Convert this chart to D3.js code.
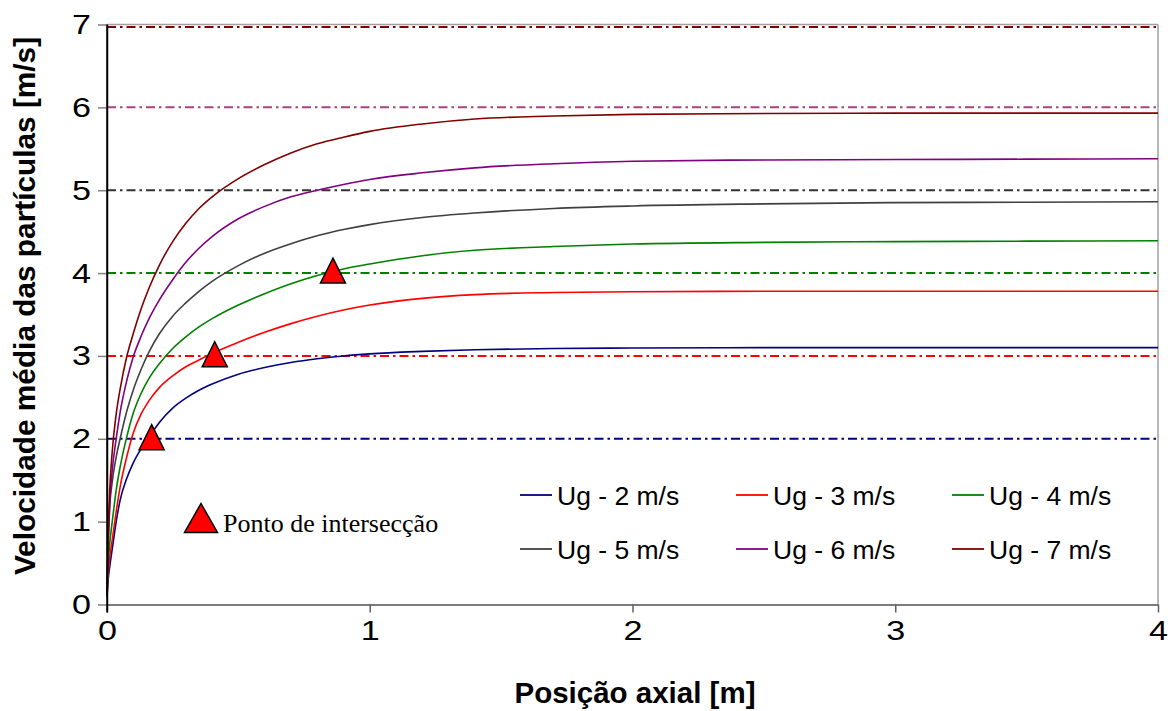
<!DOCTYPE html>
<html>
<head>
<meta charset="utf-8">
<script src="https://cdn.jsdelivr.net/npm/d3@7"></script>
<style>
  html, body { margin: 0; padding: 0; background: #ffffff; }
  svg { display: block; }
</style>
</head>
<body>
<svg id="chart" width="1168" height="711"></svg>
<script>
// ---------------- DATA ----------------
const xPos = [0, 0.005, 0.01, 0.02, 0.035, 0.05, 0.075, 0.1, 0.13, 0.16, 0.2, 0.25, 0.3, 0.35, 0.4,
              0.5, 0.6, 0.7, 0.8, 0.9, 1.0, 1.2, 1.4, 1.7, 2.0, 2.5, 3, 3.5, 4];
const seriesNames = ["Ug - 2 m/s", "Ug - 3 m/s", "Ug - 4 m/s", "Ug - 5 m/s", "Ug - 6 m/s", "Ug - 7 m/s"];
const ug2 = [0.1, 0.32, 0.45, 0.67, 1.00, 1.26, 1.52, 1.71, 1.88, 2.02, 2.20, 2.37, 2.49, 2.585, 2.66,
             2.78, 2.86, 2.92, 2.965, 3.00, 3.025, 3.055, 3.075, 3.09, 3.095, 3.10, 3.10, 3.10, 3.10];
const ug3 = [0.1, 0.38, 0.55, 0.78, 1.12, 1.42, 1.78, 2.07, 2.30, 2.46, 2.62, 2.76, 2.87, 2.95, 3.03,
             3.165, 3.285, 3.39, 3.48, 3.555, 3.615, 3.695, 3.74, 3.765, 3.775, 3.78, 3.78, 3.78, 3.78];
const ug4 = [0.1, 0.50, 0.72, 1.00, 1.38, 1.66, 2.02, 2.31, 2.55, 2.73, 2.91, 3.09, 3.23, 3.35, 3.45,
             3.615, 3.75, 3.87, 3.97, 4.05, 4.11, 4.21, 4.275, 4.32, 4.35, 4.37, 4.38, 4.385, 4.39];
const ug5 = [0.1, 0.75, 1.15, 1.48, 1.78, 2.00, 2.33, 2.59, 2.84, 3.05, 3.27, 3.48, 3.64, 3.78, 3.90,
             4.09, 4.24, 4.355, 4.45, 4.525, 4.585, 4.67, 4.725, 4.78, 4.81, 4.835, 4.85, 4.855, 4.86];
const ug6 = [0.1, 0.80, 1.20, 1.62, 2.00, 2.32, 2.70, 2.99, 3.24, 3.45, 3.68, 3.92, 4.13, 4.30, 4.44,
             4.655, 4.805, 4.92, 5.00, 5.07, 5.13, 5.21, 5.27, 5.32, 5.35, 5.365, 5.37, 5.375, 5.38];
const ug7 = [0.1, 0.90, 1.35, 1.85, 2.30, 2.60, 2.99, 3.27, 3.57, 3.82, 4.10, 4.38, 4.60, 4.78, 4.92,
             5.14, 5.31, 5.45, 5.56, 5.64, 5.71, 5.80, 5.86, 5.895, 5.915, 5.925, 5.93, 5.93, 5.93];
const seriesValues = [ug2, ug3, ug4, ug5, ug6, ug7];
const seriesColors = ["#000080", "#ff0000", "#008000", "#404040", "#800080", "#800000"];

// horizontal dash-dot reference lines (gas velocity levels)
const refValues = [2, 3, 4, 5, 6, 6.97];
const refColors = ["#000080", "#ff0000", "#008000", "#333333", "#a8437f", "#800000"];

// intersection points
const interX = [0.17, 0.41, 0.86];
const interY = [2.02, 3.02, 4.03];

const xTicks = [0, 1, 2, 3, 4];
const yTicks = [0, 1, 2, 3, 4, 5, 6, 7];
const xTitle = "Posição axial [m]";
const yTitle = "Velocidade média das partículas [m/s]";
const markerLabel = "Ponto de intersecção";

// ---------------- LAYOUT ----------------
const svg = d3.select("#chart");
const plot = { left: 107, right: 1158, top: 24.5, bottom: 604.5 };

const x = d3.scaleLinear().domain([0, 4]).range([plot.left, plot.right]);
const y = d3.scaleLinear().domain([0, 7]).range([plot.bottom, plot.top]);

svg.append("rect").attr("width", 1168).attr("height", 711).attr("fill", "#ffffff");

// plot border (top & right, light gray)
svg.append("line").attr("x1", plot.left).attr("x2", plot.right)
  .attr("y1", plot.top).attr("y2", plot.top)
  .attr("stroke", "#a0a0a0").attr("stroke-width", 1.5);
svg.append("line").attr("x1", plot.right).attr("x2", plot.right)
  .attr("y1", plot.top).attr("y2", plot.bottom)
  .attr("stroke", "#a0a0a0").attr("stroke-width", 1.5);

// reference dash-dot lines
svg.append("g").selectAll("line").data(refValues).join("line")
  .attr("x1", x(0)).attr("x2", x(4))
  .attr("y1", d => y(d)).attr("y2", d => y(d))
  .attr("stroke", (d, i) => refColors[i])
  .attr("stroke-width", 2)
  .attr("stroke-dasharray", "9,4,2.5,4");

// curves
const line = d3.line()
  .x((d, i) => x(xPos[i]))
  .y(d => y(d))
  .curve(d3.curveMonotoneX);

svg.append("g").selectAll("path").data(seriesValues).join("path")
  .attr("d", d => line(d))
  .attr("fill", "none")
  .attr("stroke", (d, i) => seriesColors[i])
  .attr("stroke-width", 1.6);

// triangle marker path generator
function tri(cx, cy, w, h) {
  const p = d3.path();
  p.moveTo(cx, cy - h / 2);
  p.lineTo(cx + w / 2, cy + h / 2);
  p.lineTo(cx - w / 2, cy + h / 2);
  p.closePath();
  return p.toString();
}

svg.append("g").selectAll("path").data(interX).join("path")
  .attr("d", (d, i) => tri(x(d), y(interY[i]), 25, 25))
  .attr("fill", "#ff0000")
  .attr("stroke", "#000000")
  .attr("stroke-width", 1.5)
  .attr("stroke-linejoin", "miter");

// axes
const yAxis = d3.axisLeft(y).tickValues(yTicks).tickSize(9).tickSizeOuter(0).tickPadding(7)
  .tickFormat(d3.format("d"));
const gy = svg.append("g").attr("transform", `translate(${plot.left},0)`).call(yAxis);
gy.select(".domain").attr("stroke", "#000000").attr("stroke-width", 1.5);
gy.selectAll(".tick line").attr("stroke", "#808080").attr("stroke-width", 1.5);
gy.selectAll(".tick text")
  .attr("x", 0)
  .attr("transform", "translate(-16,0) scale(1.22,1)")
  .attr("font-family", "Liberation Sans, Arial, sans-serif")
  .attr("font-size", 28).attr("fill", "#000000");

const xAxis = d3.axisBottom(x).tickValues(xTicks).tickSize(8).tickSizeOuter(0).tickPadding(8)
  .tickFormat(d3.format("d"));
const gx = svg.append("g").attr("transform", `translate(0,${plot.bottom})`).call(xAxis);
gx.select(".domain").attr("stroke", "#505050").attr("stroke-width", 1.5);
gx.selectAll(".tick line").attr("stroke", "#606060").attr("stroke-width", 1.5);
gx.selectAll(".tick line").filter(d => d === 0).attr("stroke", "#000000");
gx.selectAll(".tick text")
  .attr("transform", "scale(1.22,1)")
  .attr("font-family", "Liberation Sans, Arial, sans-serif")
  .attr("font-size", 28).attr("fill", "#000000");
// redraw left axis line on top
svg.append("line").attr("x1", plot.left).attr("x2", plot.left)
  .attr("y1", plot.top).attr("y2", plot.bottom + 8)
  .attr("stroke", "#000000").attr("stroke-width", 1.5);

// axis titles
svg.append("text")
  .attr("x", 635).attr("y", 703)
  .attr("text-anchor", "middle")
  .attr("font-family", "Liberation Sans, Arial, sans-serif")
  .attr("font-weight", "bold").attr("font-size", 29.5)
  .text(xTitle);

svg.append("text")
  .attr("transform", "translate(35,306) rotate(-90)")
  .attr("text-anchor", "middle")
  .attr("font-family", "Liberation Sans, Arial, sans-serif")
  .attr("font-weight", "bold").attr("font-size", 29.8)
  .text(yTitle);

// legend
const legCols = [520, 736, 952];
const legRows = [495, 549];
const leg = svg.append("g").selectAll("g").data(seriesNames).join("g")
  .attr("transform", (d, i) => `translate(${legCols[i % 3]},${legRows[Math.floor(i / 3)]})`);
leg.append("line").attr("x1", 0).attr("x2", 32).attr("y1", 0).attr("y2", 0)
  .attr("stroke", (d, i) => seriesColors[i]).attr("stroke-width", 1.8);
leg.append("text").attr("x", 37).attr("y", 0).attr("dy", "0.36em")
  .attr("font-family", "Liberation Sans, Arial, sans-serif")
  .attr("font-size", 26.5).attr("fill", "#000000")
  .text(d => d);

// marker legend
svg.append("path").attr("d", tri(201, 518, 33, 29))
  .attr("fill", "#ff0000").attr("stroke", "#000000").attr("stroke-width", 1.5);
svg.append("text").attr("x", 223).attr("y", 532)
  .attr("font-family", "Liberation Serif, 'Times New Roman', serif")
  .attr("font-size", 26).attr("fill", "#000000")
  .text(markerLabel);
</script>
</body>
</html>
